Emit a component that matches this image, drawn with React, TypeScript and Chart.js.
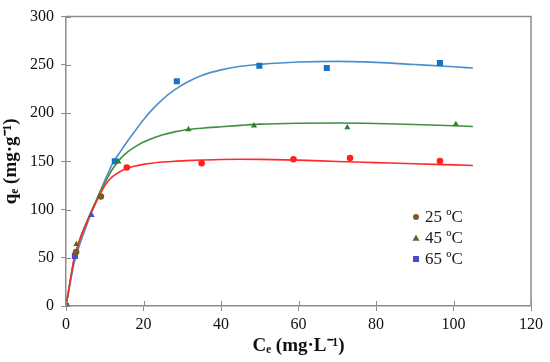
import React, { useEffect, useRef } from "react";
import { Chart, registerables } from "chart.js";
Chart.register(...registerables);

// Experimental points
const ce25 = [0, 2.6, 9.0, 15.7, 35.0, 58.7, 73.3, 96.5];
const qe25 = [0, 56, 113.5, 143.6, 148, 152.2, 153.3, 150.2];
const ce45 = [0, 2.7, 6.6, 13.5, 31.6, 48.5, 72.6, 100.6];
const qe45 = [0, 64, 94.2, 149.5, 183, 187, 185, 188.4];
const ce65 = [0, 2.3, 12.6, 28.6, 49.9, 67.3, 96.5];
const qe65 = [0, 52, 150, 233, 249, 246.7, 251.9];

// Fitted curves
const fitCe = [0, 1, 2, 3, 4, 5, 6, 7, 8, 9, 10, 11, 12, 14, 16, 18, 20, 22, 25, 28, 31, 35, 40, 45, 50, 60, 70, 80, 90, 100, 105];
const fit25 = [0, 24, 47, 62, 73.5, 83, 92.5, 101, 109.5, 117.5, 124.5, 130, 134, 139.5, 143, 145.2, 146.8, 148, 149.2, 150.1, 150.7, 151.3, 151.9, 152.1, 152, 151.2, 149.8, 148.6, 147.4, 146.3, 145.7];
const fit45 = [0, 24, 47, 62, 74, 84, 93.5, 102.5, 111, 119.5, 127.5, 135, 142, 152.5, 160, 165.5, 170, 173.5, 177.5, 180.5, 182.7, 184.3, 185.8, 187.2, 188.5, 189.5, 189.7, 189.2, 188.2, 186.8, 186];
const fit65 = [0, 22, 43, 57, 69, 80, 91, 101, 111, 120.5, 130, 139, 147.5, 159.8, 171.5, 182.5, 193, 202.5, 214.5, 224, 231.5, 239, 244.8, 248.5, 250.5, 253, 253.6, 252.5, 250.3, 248, 246.7];

const legendLabels = ["25 ºC", "45 ºC", "65 ºC"];
const xTitle = "Cₑ (mg·L⁻¹)";
const yTitle = "qₑ (mg·g⁻¹)";

const toXY = (xs: number[], ys: number[]) => xs.map((x, i) => ({ x, y: ys[i] }));

const FONT = "'Liberation Serif', 'Times New Roman', serif";
const AXIS = "#8c8c8c";
Chart.defaults.font.family = FONT;

const legendColors = ["#7a5a1e", "#4f6b22", "#4b4bd0"];
const legendShapes = ["circle", "triangle", "rect"];

function drawMarker(ctx: CanvasRenderingContext2D, shape: string, x: number, y: number, r: number, color: string) {
  ctx.save();
  ctx.fillStyle = color;
  ctx.beginPath();
  if (shape === "circle") {
    ctx.arc(x, y, r, 0, Math.PI * 2);
  } else if (shape === "triangle") {
    ctx.moveTo(x, y - r);
    ctx.lineTo(x + r, y + r * 0.8);
    ctx.lineTo(x - r, y + r * 0.8);
    ctx.closePath();
  } else {
    ctx.rect(x - r, y - r, r * 2, r * 2);
  }
  ctx.fill();
  ctx.restore();
}

const decorPlugin = {
  id: "decor",
  afterDraw(chart: any) {
    const ctx: CanvasRenderingContext2D = chart.ctx;
    const a = chart.chartArea;
    ctx.save();
    ctx.strokeStyle = AXIS;
    ctx.lineWidth = 1.5;
    // top & right border
    ctx.beginPath();
    ctx.moveTo(a.left, a.top);
    ctx.lineTo(a.right, a.top);
    ctx.lineTo(a.right, a.bottom);
    ctx.stroke();
    // inner tick halves
    ctx.lineWidth = 1;
    const xs = chart.scales.x;
    const ys = chart.scales.y;
    ctx.beginPath();
    xs.ticks.forEach((t: any) => {
      const px = Math.round(xs.getPixelForValue(t.value)) + 0.5;
      ctx.moveTo(px, a.bottom);
      ctx.lineTo(px, a.bottom - 5);
    });
    ys.ticks.forEach((t: any) => {
      const py = Math.round(ys.getPixelForValue(t.value)) + 0.5;
      ctx.moveTo(a.left, py);
      ctx.lineTo(a.left + 5, py);
    });
    ctx.stroke();
    // legend
    const lx = a.right - 115;
    const ly = a.bottom - 89;
    ctx.font = `17px ${FONT}`;
    ctx.textBaseline = "middle";
    legendLabels.forEach((lab, i) => {
      const y = ly + i * 21;
      drawMarker(ctx, legendShapes[i], lx, y, i === 1 ? 3.5 : 3, legendColors[i]);
      ctx.fillStyle = "#1a1a1a";
      ctx.fillText(lab, lx + 9, y + 1);
    });
    ctx.restore();
  },
};

export default function App() {
  const ref = useRef<HTMLCanvasElement | null>(null);
  useEffect(() => {
    document.body.style.margin = "0";
    if (!ref.current) return;
    const red = "#ff1f1f";
    const green = "#2f7f2f";
    const blue = "#1a72c2";
    const chart = new Chart(ref.current, {
      type: "scatter",
      data: {
        datasets: [
          {
            label: "fit25",
            data: toXY(fitCe, fit25),
            showLine: true,
            pointRadius: 0,
            borderColor: "#ff2a2a",
            borderWidth: 1.6,
            cubicInterpolationMode: "monotone",
            order: 2,
          },
          {
            label: "fit45",
            data: toXY(fitCe, fit45),
            showLine: true,
            pointRadius: 0,
            borderColor: "#3f8f3f",
            borderWidth: 1.6,
            cubicInterpolationMode: "monotone",
            order: 2,
          },
          {
            label: "fit65",
            data: toXY(fitCe, fit65),
            showLine: true,
            pointRadius: 0,
            borderColor: "#4a8fd2",
            borderWidth: 1.6,
            cubicInterpolationMode: "monotone",
            order: 2,
          },
          {
            label: legendLabels[0],
            data: toXY(ce25, qe25),
            pointStyle: "circle",
            pointRadius: 3.3,
            pointBorderWidth: 0,
            pointBackgroundColor: [legendColors[0], legendColors[0], legendColors[0], red, red, red, red, red],
            order: 0,
          },
          {
            label: legendLabels[1],
            data: toXY(ce45, qe45),
            pointStyle: "triangle",
            pointRadius: 3.6,
            pointBorderWidth: 0,
            pointBackgroundColor: [legendColors[1], legendColors[1], legendColors[2], green, green, green, green, green],
            order: 0,
          },
          {
            label: legendLabels[2],
            data: toXY(ce65, qe65),
            pointStyle: "rect",
            pointRadius: 4.3,
            pointBorderWidth: 0,
            pointBackgroundColor: [legendColors[2], legendColors[2], blue, blue, blue, blue, blue],
            order: 0,
          },
        ],
      },
      options: {
        animation: false,
        responsive: false,
        layout: { padding: { top: 13, right: 19, left: 0, bottom: 0 } },
        plugins: { legend: { display: false }, tooltip: { enabled: false } },
        scales: {
          x: {
            type: "linear",
            min: 0,
            max: 120,
            ticks: { stepSize: 20, color: "#111", font: { family: FONT, size: 16 }, padding: 4 },
            grid: { drawOnChartArea: false, tickLength: 5, color: AXIS },
            border: { color: AXIS, width: 1.5 },
            title: {
              display: true,
              text: xTitle,
              color: "#111",
              font: { family: FONT, size: 19, weight: "bold" },
              padding: { top: 0, bottom: 5 },
            },
            afterFit(scale: any) {
              scale.height = 56;
            },
          },
          y: {
            min: 0,
            max: 300,
            ticks: { stepSize: 50, color: "#111", font: { family: FONT, size: 16 }, padding: 7 },
            grid: { drawOnChartArea: false, tickLength: 5, color: AXIS },
            border: { color: AXIS, width: 1.5 },
            title: {
              display: true,
              text: yTitle,
              color: "#111",
              font: { family: FONT, size: 19, weight: "bold" },
              padding: { top: 0, bottom: 0 },
            },
            afterFit(scale: any) {
              scale.width = 66;
            },
          },
        },
      } as any,
      plugins: [decorPlugin],
    });
    return () => chart.destroy();
  }, []);
  return (
    <div style={{ width: 550, height: 362, background: "#fff" }}>
      <canvas ref={ref} width={550} height={362} style={{ width: 550, height: 362, display: "block" }} />
    </div>
  );
}
